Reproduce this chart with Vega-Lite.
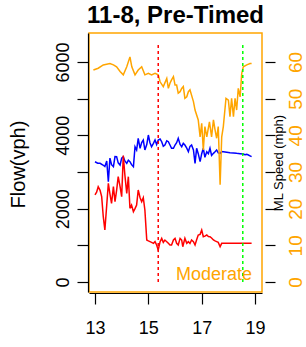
{
  "$schema": "https://vega.github.io/schema/vega-lite/v6.json",
  "width": 173,
  "height": 259,
  "autosize": {"type": "none"},
  "padding": {"left": 89, "top": 33, "right": 44, "bottom": 55},
  "title": {"text": "11-8, Pre-Timed", "font": "Liberation Sans", "fontSize": 24, "fontWeight": "bold", "color": "black", "baseline": "alphabetic", "offset": 8, "dy": 22, "frame": "group", "anchor": "middle"},
  "config": {
    "view": {"stroke": "#FFA500", "strokeWidth": 1.5},
    "axis": {"labelFont": "Liberation Sans", "titleFont": "Liberation Sans", "grid": false, "domainColor": "black", "tickColor": "black", "labelColor": "black", "titleColor": "black", "titleFontWeight": "normal", "tickWidth": 1.2, "domainWidth": 1.2}
  },
  "datasets": {
    "flow": [
      {"t": 13.0, "v": 3280, "series": "flow1"}, {"t": 13.1, "v": 3240, "series": "flow1"}, {"t": 13.19, "v": 3236, "series": "flow1"}, {"t": 13.3, "v": 3190, "series": "flow1"}, {"t": 13.37, "v": 3150, "series": "flow1"}, {"t": 13.44, "v": 3300, "series": "flow1"}, {"t": 13.5, "v": 2735, "series": "flow1"}, {"t": 13.56, "v": 3380, "series": "flow1"}, {"t": 13.62, "v": 3200, "series": "flow1"}, {"t": 13.69, "v": 3145, "series": "flow1"}, {"t": 13.75, "v": 3420, "series": "flow1"}, {"t": 13.81, "v": 3418, "series": "flow1"}, {"t": 13.87, "v": 3250, "series": "flow1"}, {"t": 13.94, "v": 3190, "series": "flow1"}, {"t": 14.0, "v": 3380, "series": "flow1"}, {"t": 14.06, "v": 3418, "series": "flow1"}, {"t": 14.12, "v": 3300, "series": "flow1"}, {"t": 14.19, "v": 3236, "series": "flow1"}, {"t": 14.25, "v": 3320, "series": "flow1"}, {"t": 14.31, "v": 3281, "series": "flow1"}, {"t": 14.37, "v": 3200, "series": "flow1"}, {"t": 14.44, "v": 3145, "series": "flow1"}, {"t": 14.5, "v": 3690, "series": "flow1"}, {"t": 14.56, "v": 3600, "series": "flow1"}, {"t": 14.62, "v": 3918, "series": "flow1"}, {"t": 14.69, "v": 3646, "series": "flow1"}, {"t": 14.75, "v": 3800, "series": "flow1"}, {"t": 14.81, "v": 3872, "series": "flow1"}, {"t": 14.87, "v": 3600, "series": "flow1"}, {"t": 14.94, "v": 3750, "series": "flow1"}, {"t": 15.0, "v": 4009, "series": "flow1"}, {"t": 15.06, "v": 3800, "series": "flow1"}, {"t": 15.12, "v": 3690, "series": "flow1"}, {"t": 15.19, "v": 3780, "series": "flow1"}, {"t": 15.25, "v": 3872, "series": "flow1"}, {"t": 15.31, "v": 3750, "series": "flow1"}, {"t": 15.37, "v": 3872, "series": "flow1"}, {"t": 15.44, "v": 3900, "series": "flow1"}, {"t": 15.5, "v": 3826, "series": "flow1"}, {"t": 15.56, "v": 3700, "series": "flow1"}, {"t": 15.62, "v": 3736, "series": "flow1"}, {"t": 15.69, "v": 3850, "series": "flow1"}, {"t": 15.75, "v": 3826, "series": "flow1"}, {"t": 15.81, "v": 3736, "series": "flow1"}, {"t": 15.87, "v": 3646, "series": "flow1"}, {"t": 15.94, "v": 3646, "series": "flow1"}, {"t": 16.0, "v": 3736, "series": "flow1"}, {"t": 16.06, "v": 3800, "series": "flow1"}, {"t": 16.12, "v": 3918, "series": "flow1"}, {"t": 16.19, "v": 3750, "series": "flow1"}, {"t": 16.25, "v": 3690, "series": "flow1"}, {"t": 16.31, "v": 3780, "series": "flow1"}, {"t": 16.37, "v": 3736, "series": "flow1"}, {"t": 16.44, "v": 3650, "series": "flow1"}, {"t": 16.5, "v": 3554, "series": "flow1"}, {"t": 16.56, "v": 3700, "series": "flow1"}, {"t": 16.62, "v": 3736, "series": "flow1"}, {"t": 16.69, "v": 3600, "series": "flow1"}, {"t": 16.75, "v": 3236, "series": "flow1"}, {"t": 16.81, "v": 3646, "series": "flow1"}, {"t": 16.87, "v": 3500, "series": "flow1"}, {"t": 16.94, "v": 3281, "series": "flow1"}, {"t": 17.0, "v": 3500, "series": "flow1"}, {"t": 17.06, "v": 3646, "series": "flow1"}, {"t": 17.12, "v": 3400, "series": "flow1"}, {"t": 17.19, "v": 3554, "series": "flow1"}, {"t": 17.25, "v": 3500, "series": "flow1"}, {"t": 17.31, "v": 3646, "series": "flow1"}, {"t": 17.37, "v": 3450, "series": "flow1"}, {"t": 17.44, "v": 3509, "series": "flow1"}, {"t": 17.5, "v": 3550, "series": "flow1"}, {"t": 17.56, "v": 3600, "series": "flow1"}, {"t": 17.62, "v": 3520, "series": "flow1"}, {"t": 17.69, "v": 3509, "series": "flow1"}, {"t": 17.75, "v": 3560, "series": "flow1"}, {"t": 17.81, "v": 3554, "series": "flow1"}, {"t": 17.94, "v": 3540, "series": "flow1"}, {"t": 18.06, "v": 3527, "series": "flow1"}, {"t": 18.19, "v": 3520, "series": "flow1"}, {"t": 18.31, "v": 3509, "series": "flow1"}, {"t": 18.44, "v": 3500, "series": "flow1"}, {"t": 18.56, "v": 3491, "series": "flow1"}, {"t": 18.62, "v": 3470, "series": "flow1"}, {"t": 18.69, "v": 3480, "series": "flow1"}, {"t": 18.75, "v": 3463, "series": "flow1"}, {"t": 18.81, "v": 3440, "series": "flow1"}, {"t": 18.87, "v": 3418, "series": "flow1"},
      {"t": 13.0, "v": 2373, "series": "flow2"}, {"t": 13.06, "v": 2450, "series": "flow2"}, {"t": 13.12, "v": 2600, "series": "flow2"}, {"t": 13.19, "v": 2500, "series": "flow2"}, {"t": 13.25, "v": 2327, "series": "flow2"}, {"t": 13.31, "v": 1781, "series": "flow2"}, {"t": 13.37, "v": 1418, "series": "flow2"}, {"t": 13.44, "v": 2100, "series": "flow2"}, {"t": 13.5, "v": 2691, "series": "flow2"}, {"t": 13.56, "v": 2400, "series": "flow2"}, {"t": 13.62, "v": 2146, "series": "flow2"}, {"t": 13.69, "v": 2600, "series": "flow2"}, {"t": 13.75, "v": 2190, "series": "flow2"}, {"t": 13.81, "v": 2500, "series": "flow2"}, {"t": 13.87, "v": 2872, "series": "flow2"}, {"t": 13.94, "v": 2600, "series": "flow2"}, {"t": 14.0, "v": 2327, "series": "flow2"}, {"t": 14.06, "v": 3450, "series": "flow2"}, {"t": 14.12, "v": 2918, "series": "flow2"}, {"t": 14.19, "v": 2418, "series": "flow2"}, {"t": 14.25, "v": 2872, "series": "flow2"}, {"t": 14.31, "v": 2009, "series": "flow2"}, {"t": 14.37, "v": 2100, "series": "flow2"}, {"t": 14.44, "v": 1918, "series": "flow2"}, {"t": 14.5, "v": 2000, "series": "flow2"}, {"t": 14.56, "v": 2100, "series": "flow2"}, {"t": 14.62, "v": 2509, "series": "flow2"}, {"t": 14.69, "v": 2300, "series": "flow2"}, {"t": 14.75, "v": 2190, "series": "flow2"}, {"t": 14.81, "v": 2300, "series": "flow2"}, {"t": 14.87, "v": 1963, "series": "flow2"}, {"t": 14.94, "v": 1145, "series": "flow2"}, {"t": 15.0, "v": 1120, "series": "flow2"}, {"t": 15.06, "v": 1100, "series": "flow2"}, {"t": 15.12, "v": 1080, "series": "flow2"}, {"t": 15.19, "v": 1054, "series": "flow2"}, {"t": 15.25, "v": 1100, "series": "flow2"}, {"t": 15.31, "v": 1009, "series": "flow2"}, {"t": 15.37, "v": 873, "series": "flow2"}, {"t": 15.44, "v": 1100, "series": "flow2"}, {"t": 15.5, "v": 1190, "series": "flow2"}, {"t": 15.56, "v": 1080, "series": "flow2"}, {"t": 15.62, "v": 1145, "series": "flow2"}, {"t": 15.69, "v": 1100, "series": "flow2"}, {"t": 15.75, "v": 1054, "series": "flow2"}, {"t": 15.81, "v": 1009, "series": "flow2"}, {"t": 15.87, "v": 1009, "series": "flow2"}, {"t": 15.94, "v": 1145, "series": "flow2"}, {"t": 16.0, "v": 1190, "series": "flow2"}, {"t": 16.06, "v": 1054, "series": "flow2"}, {"t": 16.12, "v": 1009, "series": "flow2"}, {"t": 16.19, "v": 1190, "series": "flow2"}, {"t": 16.25, "v": 1145, "series": "flow2"}, {"t": 16.29, "v": 963, "series": "flow2"}, {"t": 16.37, "v": 1190, "series": "flow2"}, {"t": 16.44, "v": 1054, "series": "flow2"}, {"t": 16.5, "v": 1100, "series": "flow2"}, {"t": 16.56, "v": 1050, "series": "flow2"}, {"t": 16.62, "v": 1145, "series": "flow2"}, {"t": 16.69, "v": 1100, "series": "flow2"}, {"t": 16.75, "v": 1009, "series": "flow2"}, {"t": 16.81, "v": 1150, "series": "flow2"}, {"t": 16.87, "v": 1282, "series": "flow2"}, {"t": 16.94, "v": 1300, "series": "flow2"}, {"t": 17.0, "v": 1418, "series": "flow2"}, {"t": 17.06, "v": 1236, "series": "flow2"}, {"t": 17.12, "v": 1250, "series": "flow2"}, {"t": 17.19, "v": 1282, "series": "flow2"}, {"t": 17.25, "v": 1240, "series": "flow2"}, {"t": 17.31, "v": 1236, "series": "flow2"}, {"t": 17.37, "v": 1200, "series": "flow2"}, {"t": 17.44, "v": 1145, "series": "flow2"}, {"t": 17.5, "v": 1120, "series": "flow2"}, {"t": 17.56, "v": 1100, "series": "flow2"}, {"t": 17.62, "v": 1080, "series": "flow2"}, {"t": 17.69, "v": 963, "series": "flow2"}, {"t": 17.75, "v": 1054, "series": "flow2"}, {"t": 17.81, "v": 1054, "series": "flow2"}, {"t": 18.06, "v": 1054, "series": "flow2"}, {"t": 18.31, "v": 1054, "series": "flow2"}, {"t": 18.56, "v": 1054, "series": "flow2"}, {"t": 18.87, "v": 1054, "series": "flow2"}
    ],
    "speed": [
      {"t": 12.94, "s": 57.8}, {"t": 13.12, "s": 58.3}, {"t": 13.31, "s": 59.2}, {"t": 13.56, "s": 59.6}, {"t": 13.69, "s": 59.2}, {"t": 13.81, "s": 58.7}, {"t": 13.94, "s": 57.4}, {"t": 14.06, "s": 56.5}, {"t": 14.19, "s": 58.7}, {"t": 14.31, "s": 61.4}, {"t": 14.38, "s": 58.7}, {"t": 14.5, "s": 56.5}, {"t": 14.62, "s": 57.8}, {"t": 14.75, "s": 58.7}, {"t": 14.87, "s": 56.5}, {"t": 15.0, "s": 56.9}, {"t": 15.12, "s": 56.5}, {"t": 15.25, "s": 56.9}, {"t": 15.37, "s": 56.5}, {"t": 15.44, "s": 54.6}, {"t": 15.56, "s": 53.3}, {"t": 15.69, "s": 55.5}, {"t": 15.75, "s": 52.8}, {"t": 15.81, "s": 54.2}, {"t": 15.87, "s": 55.1}, {"t": 15.94, "s": 56.0}, {"t": 16.0, "s": 53.7}, {"t": 16.06, "s": 53.7}, {"t": 16.12, "s": 51.5}, {"t": 16.19, "s": 51.9}, {"t": 16.25, "s": 52.8}, {"t": 16.31, "s": 53.3}, {"t": 16.37, "s": 50.1}, {"t": 16.44, "s": 50.5}, {"t": 16.5, "s": 51.9}, {"t": 16.56, "s": 52.4}, {"t": 16.69, "s": 49.2}, {"t": 16.75, "s": 46.9}, {"t": 16.87, "s": 44.2}, {"t": 16.94, "s": 39.6}, {"t": 17.0, "s": 43.3}, {"t": 17.06, "s": 36.0}, {"t": 17.12, "s": 42.4}, {"t": 17.19, "s": 39.6}, {"t": 17.29, "s": 43.7}, {"t": 17.37, "s": 39.6}, {"t": 17.44, "s": 44.2}, {"t": 17.5, "s": 41.5}, {"t": 17.56, "s": 39.2}, {"t": 17.62, "s": 42.4}, {"t": 17.69, "s": 26.5}, {"t": 17.75, "s": 39.6}, {"t": 17.81, "s": 42.4}, {"t": 17.91, "s": 50.1}, {"t": 18.0, "s": 49.6}, {"t": 18.06, "s": 45.1}, {"t": 18.12, "s": 50.1}, {"t": 18.19, "s": 45.1}, {"t": 18.25, "s": 50.1}, {"t": 18.31, "s": 46.9}, {"t": 18.37, "s": 52.8}, {"t": 18.44, "s": 50.5}, {"t": 18.5, "s": 56.9}, {"t": 18.56, "s": 58.7}, {"t": 18.69, "s": 59.2}, {"t": 18.81, "s": 59.6}, {"t": 18.87, "s": 59.6}
    ],
    "marks": [
      {"t": 15.37, "kind": "start"},
      {"t": 18.54, "kind": "end"}
    ],
    "notes": [
      {"t": 18.89, "v": 190, "label": "Moderate"}
    ]
  },
  "layer": [
    {
      "data": {"name": "flow"},
      "mark": {"type": "line", "strokeWidth": 1.5},
      "encoding": {
        "x": {"field": "t", "type": "quantitative", "scale": {"domain": [12.775, 19.26], "nice": false, "zero": false},
          "axis": {"values": [13, 14, 15, 16, 17, 18, 19], "labelExpr": "datum.value % 2 == 1 ? datum.label : ''", "tickSize": 11, "offset": 1, "labelPadding": 15, "labelFontSize": 18, "title": null}},
        "y": {"field": "v", "type": "quantitative", "scale": {"domain": [-272.7, 6790.9], "nice": false, "zero": false},
          "axis": {"orient": "left", "values": [0, 1000, 2000, 3000, 4000, 5000, 6000], "format": "d", "labelExpr": "datum.value % 2000 == 0 ? datum.label : ''", "labelAngle": 270, "labelAlign": "center", "labelBaseline": "bottom", "tickSize": 11, "offset": 1, "labelPadding": 5, "labelFontSize": 18, "title": "Flow(vph)", "titleFontSize": 20, "titleX": -70, "titleY": 131, "titleAngle": 270, "titleAlign": "center", "titleBaseline": "middle"}},
        "color": {"field": "series", "type": "nominal", "scale": {"domain": ["flow1", "flow2"], "range": ["#0000FF", "#FF0000"]}, "legend": null}
      }
    },
    {
      "data": {"name": "speed"},
      "mark": {"type": "line", "strokeWidth": 1.5, "color": "#FFA500"},
      "encoding": {
        "x": {"field": "t", "type": "quantitative", "scale": {"domain": [12.775, 19.26], "nice": false, "zero": false}},
        "y": {"field": "s", "type": "quantitative", "scale": {"domain": [-2.727, 67.909], "nice": false, "zero": false},
          "axis": {"orient": "right", "values": [0, 10, 20, 30, 40, 50, 60], "labelAngle": 270, "labelAlign": "center", "labelBaseline": "top", "labelColor": "#FFA500", "labelFontSize": 19, "tickSize": 10, "offset": 3, "labelPadding": 11, "domain": false, "title": "ML Speed (mph)", "titleFontSize": 13, "titleX": 13, "titleY": 129.5, "titleAngle": 270, "titleAlign": "center", "titleBaseline": "middle"}}
      }
    },
    {
      "data": {"name": "marks"},
      "mark": {"type": "rule", "strokeWidth": 1.5, "strokeDash": [3, 3]},
      "encoding": {
        "x": {"field": "t", "type": "quantitative", "scale": {"domain": [12.775, 19.26], "nice": false, "zero": false}},
        "y": {"datum": 0, "type": "quantitative", "scale": {"domain": [-272.7, 6790.9], "nice": false, "zero": false}, "axis": null},
        "y2": {"datum": 6520},
        "color": {"field": "kind", "type": "nominal", "scale": {"domain": ["start", "end"], "range": ["#FF0000", "#00FF00"]}, "legend": null}
      }
    },
    {
      "data": {"name": "notes"},
      "mark": {"type": "text", "align": "right", "baseline": "middle", "font": "Liberation Sans", "fontSize": 18, "color": "#FFA500"},
      "encoding": {
        "x": {"field": "t", "type": "quantitative", "scale": {"domain": [12.775, 19.26], "nice": false, "zero": false}},
        "y": {"field": "v", "type": "quantitative", "scale": {"domain": [-272.7, 6790.9], "nice": false, "zero": false}, "axis": null},
        "text": {"field": "label"}
      }
    }
  ],
  "resolve": {"scale": {"y": "independent", "color": "independent"}}
}
